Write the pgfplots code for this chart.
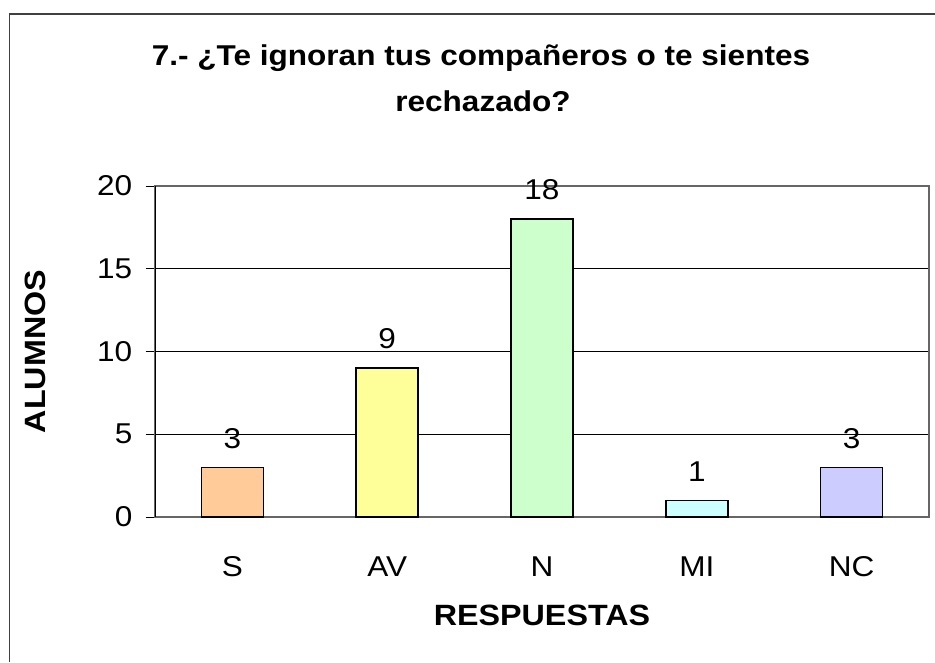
\documentclass[border=0pt]{standalone}
\usepackage{pgfplots}
\pgfplotsset{compat=1.18}
\usepackage{fontspec}
\setmainfont[FakeStretch=1.1]{Liberation Sans}
\definecolor{cS}{HTML}{FFCC99}
\definecolor{cAV}{HTML}{FFFF99}
\definecolor{cN}{HTML}{CCFFCC}
\definecolor{cMI}{HTML}{CCFFFF}
\definecolor{cNC}{HTML}{CCCCFF}
\begin{document}
\begin{tikzpicture}[x=0.75pt,y=0.75pt]
\path[use as bounding box] (0,0) rectangle (935,662);
\draw[line width=1.2pt,black!75] (9.5,0) -- (9.5,648) -- (935,648);
\node[font=\bfseries\fontsize{21.5}{26}\selectfont,anchor=base] at (481,596) {7.- ¿Te ignoran tus compañeros o te sientes};
\node[font=\bfseries\fontsize{21.5}{26}\selectfont,anchor=base] at (483,551) {rechazado?};
\begin{axis}[
  at={(116.25pt,108.75pt)}, anchor=south west,
  scale only axis, width=580.5pt, height=248.25pt,
  xmin=-0.5, xmax=4.5, ymin=0, ymax=20,
  ytick={0,5,10,15,20},
  xtick={0,1,2,3,4}, xticklabels={S,AV,N,MI,NC},
  extra x ticks={0.5,1.5,2.5,3.5,4.5}, extra x tick labels={},
  extra x tick style={major tick length=7pt, tick style={gray,line width=0.8pt}, grid=none},
  x tick style={draw=none},
  y tick style={black,line width=0.6pt},
  major tick length=7pt,
  tick align=outside, tick pos=left,
  ymajorgrids, grid style={black,line width=0.6pt},
  axis line style={gray!80!black,line width=0.8pt},
  tick label style={font=\fontsize{21.5}{24}\selectfont},
  /pgf/number format/assume math mode=true,
  yticklabel style={xshift=-6.5pt},
  xticklabel style={yshift=-19pt},
  xlabel={\bfseries RESPUESTAS}, ylabel={\bfseries ALUMNOS},
  label style={font=\bfseries\fontsize{22}{24}\selectfont},
  xlabel style={at={(axis description cs:0.5,-0.296)},anchor=center},
  ylabel style={at={(axis description cs:-0.155,0.5)},anchor=center},
  ybar, bar width=46.5pt, bar shift=0pt,
  nodes near coords,
  every node near coord/.append style={font=\fontsize{21.5}{24}\selectfont,anchor=base,yshift=14.5pt,black},
]
\addplot[fill=cS,draw=black,line width=1.2pt] coordinates {(0,3)};
\addplot[fill=cAV,draw=black,line width=1.2pt] coordinates {(1,9)};
\addplot[fill=cN,draw=black,line width=1.2pt] coordinates {(2,18)};
\addplot[fill=cMI,draw=black,line width=1.2pt] coordinates {(3,1)};
\addplot[fill=cNC,draw=black,line width=1.2pt] coordinates {(4,3)};
\draw[black,line width=1pt] (rel axis cs:0,0) -- (rel axis cs:0,1);
\end{axis}
\end{tikzpicture}
\end{document}
